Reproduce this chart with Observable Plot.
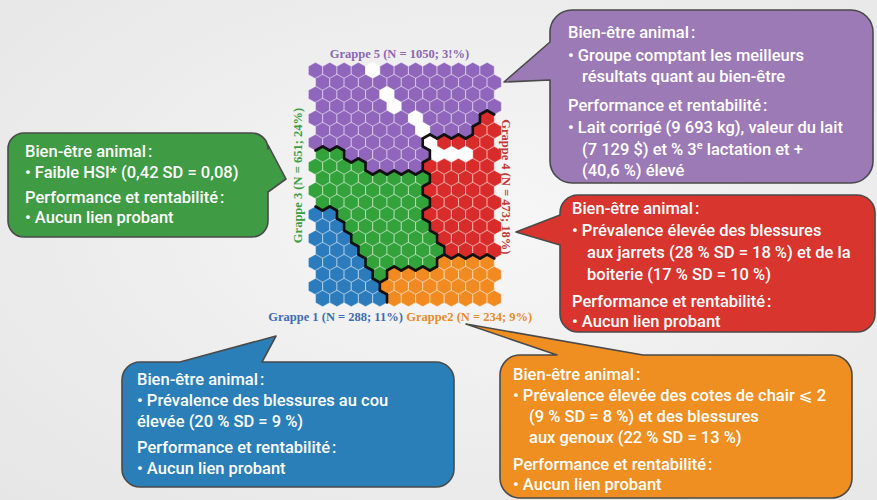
<!DOCTYPE html>
<html><head><meta charset="utf-8">
<script src="https://cdn.jsdelivr.net/npm/d3@7"></script>
<script src="https://cdn.jsdelivr.net/npm/@observablehq/plot@0.6"></script>
<style>
body{margin:0;background:#ececec;}
#wrap{position:relative;width:877px;height:500px;overflow:hidden;background:radial-gradient(ellipse at 55% 45%,#f7f7f7 0%,#ececec 60%,#e6e6e6 100%);}
#wrap svg{position:absolute;left:0;top:0;}
</style></head><body><div id="wrap"></div>
<script>
// ---- data ----
const clusterIds = ["1", "2", "3", "4", "5"];
const clusterNames = ["Grappe 1", "Grappe2", "Grappe 3", "Grappe 4", "Grappe 5"];
const clusterN = [288, 234, 651, 473, 1050];
const clusterPct = ["11%", "9%", "24%", "18%", "3!%"];
// SOM grid: 20 rows x 13 columns, cluster id per cell (odd rows shifted right)
const gridRows = [
  "5555555555555",
  "5555555555555",
  "5555555555555",
  "5555555555555",
  "5555555555554",
  "5555555555544",
  "5555555544444",
  "3355555544444",
  "3333555544444",
  "3333333344444",
  "3333333344444",
  "3333333344444",
  "1133333344444",
  "1133333344444",
  "1113333334444",
  "1113333334444",
  "1111333332222",
  "1111322222222",
  "1111122222222",
  "1111122222222"
];
// empty (white) nodes: [row, col]
const whiteCells = [[0,4],[2,5],[3,5],[4,7],[5,7],[6,8],[7,8],[7,9],[7,10]];

// ---- styles ----
const hexColors = ["#2c7bbd", "#f28a22", "#33a23b", "#d72c2a", "#9066bd", "#ffffff"];
const labelColors = ["#3b6db3", "#e98a2c", "#3e9c40", "#c23a35", "#8a67b3"];

// ---- build cells ----
const cells = [];
gridRows.forEach((s, row) => [...s].forEach((ch, col) => {
  const white = whiteCells.some(([r, c]) => r === row && c === col);
  cells.push({row, col, cluster: ch, fillKey: white ? "w" : ch, x: col + (row % 2 ? 0.5 : 0), y: row});
}));
const at = (r, c) => (r >= 0 && r < gridRows.length && c >= 0 && c < gridRows[0].length) ? gridRows[r][c] : null;
const V = [[0,-2/3],[0.5,-1/3],[0.5,1/3],[0,2/3],[-0.5,1/3],[-0.5,-1/3]];
const edges = [];
for (const d of cells) {
  const odd = d.row % 2 === 1;
  const nbrs = [
    {r: d.row, c: d.col + 1, v: [1, 2]},
    {r: d.row + 1, c: odd ? d.col + 1 : d.col, v: [2, 3]},
    {r: d.row + 1, c: odd ? d.col : d.col - 1, v: [3, 4]}
  ];
  for (const n of nbrs) {
    const other = at(n.r, n.c);
    if (other !== null && other !== d.cluster) {
      edges.push({x1: d.x + V[n.v[0]][0], y1: d.y + V[n.v[0]][1], x2: d.x + V[n.v[1]][0], y2: d.y + V[n.v[1]][1]});
    }
  }
}
const label = i => `${clusterNames[i]} (N = ${clusterN[i]}; ${clusterPct[i]})`;
const lblFont = {fontFamily: "Liberation Serif", fontWeight: "bold", fontSize: 12.5, textAnchor: "middle", lineAnchor: "middle"};

const chart = Plot.plot({
  width: 877, height: 500, margin: 0,
  style: {background: "transparent", overflow: "visible"},
  x: {domain: [0, 12], range: [315, 486.6], axis: null},
  y: {domain: [0, 19], range: [70, 298], axis: null},
  color: {domain: [...clusterIds, "w"], range: hexColors},
  marks: [
    Plot.dot(cells, {x: "x", y: "y", symbol: "hexagon", r: 7.15, fill: "fillKey", stroke: "#ffffff", strokeOpacity: 0.4, strokeWidth: 1.1}),
    Plot.link(edges, {x1: "x1", y1: "y1", x2: "x2", y2: "y2", stroke: "#111", strokeWidth: 2.6, strokeLinecap: "round"}),
    Plot.text([label(4)], {x: 5.87, y: -1.35, text: d => d, fill: labelColors[4], ...lblFont}),
    Plot.text([label(2)], {x: -1.22, y: 8.75, text: d => d, fill: labelColors[2], rotate: -90, ...lblFont}),
    Plot.text([label(3)], {x: 13.3, y: 9.7, text: d => d, fill: labelColors[3], rotate: 90, ...lblFont}),
    Plot.text([label(0)], {x: 1.4, y: 20.5, text: d => d, fill: labelColors[0], ...lblFont}),
    Plot.text([label(1)], {x: 10.75, y: 20.5, text: d => d, fill: labelColors[1], ...lblFont})
  ]
});
document.getElementById("wrap").appendChild(chart);

// ---- callout bubbles (annotation layer) ----
function bubblePath(b) {
  const {x, y, w, h, r, t} = b;
  let p = `M${x + r},${y}`;
  if (t.side === "top") p += `H${t.a}L${t.tx},${t.ty}L${t.b},${y}`;
  p += `H${x + w - r}A${r},${r} 0 0 1 ${x + w},${y + r}`;
  if (t.side === "right") p += `V${t.a}L${t.tx},${t.ty}L${x + w},${t.b}`;
  p += `V${y + h - r}A${r},${r} 0 0 1 ${x + w - r},${y + h}`;
  p += `H${x + r}A${r},${r} 0 0 1 ${x},${y + h - r}`;
  if (t.side === "left") p += `V${t.b}L${t.tx},${t.ty}L${x},${t.a}`;
  p += `V${y + r}A${r},${r} 0 0 1 ${x + r},${y}Z`;
  return p;
}
const NB = "\u202F";
const bubbles = [
  {fill: "#3f9b44", x: 8, y: 133, w: 260, h: 104, r: 16, t: {side: "right", a: 145, b: 192, tx: 286, ty: 179},
   lines: [[25, 157, `Bien-être animal${NB}:`], [25, 178, "• Faible HSI* (0,42 SD = 0,08)"], [25, 203, `Performance et rentabilité${NB}:`], [25, 223, "• Aucun lien probant"]]},
  {fill: "#9c7ab6", x: 550, y: 10, w: 323, h: 173, r: 22, t: {side: "left", a: 42, b: 80, tx: 504, ty: 82},
   lines: [[568, 38, `Bien-être animal${NB}:`], [568, 61, "• Groupe comptant les meilleurs"], [582, 82, "résultats quant au bien-être"], [568, 111, `Performance et rentabilité${NB}:`], [568, 133, "• Lait corrigé (9 693 kg), valeur du lait"], [582, 155, ["(7 129 $) et % 3", "e", " lactation et +"]], [582, 176, "(40,6 %) élevé"]]},
  {fill: "#d8352f", x: 560, y: 195, w: 315, h: 137, r: 18, t: {side: "left", a: 215, b: 245, tx: 516, ty: 232},
   lines: [[572, 214, `Bien-être animal${NB}:`], [572, 236, "• Prévalence élevée des blessures"], [587, 258, "aux jarrets (28 % SD = 18 %) et de la"], [587, 280, "boiterie (17 % SD = 10 %)"], [572, 307, `Performance et rentabilité${NB}:`], [572, 327, "• Aucun lien probant"]]},
  {fill: "#2b7fb8", x: 122, y: 362, w: 332, h: 125, r: 18, t: {side: "top", a: 180, b: 262, tx: 276, ty: 336},
   lines: [[137, 385, `Bien-être animal${NB}:`], [137, 406, "• Prévalence des blessures au cou"], [137, 427, "élevée (20 % SD = 9 %)"], [137, 453, `Performance et rentabilité${NB}:`], [137, 474, "• Aucun lien probant"]]},
  {fill: "#ef8f22", x: 500, y: 355, w: 352, h: 143, r: 20, t: {side: "top", a: 557, b: 643, tx: 466, ty: 324},
   lines: [[513, 380, `Bien-être animal${NB}:`], [513, 401, "• Prévalence élevée des cotes de chair ⩽ 2"], [529, 422, "(9 % SD = 8 %) et des blessures"], [529, 443, "aux genoux (22 % SD = 13 %)"], [513, 470, `Performance et rentabilité${NB}:`], [513, 490, "• Aucun lien probant"]]}
];
const ov = d3.select("#wrap").append("svg").attr("width", 877).attr("height", 500).style("pointer-events", "none");
for (const b of bubbles) {
  ov.append("path").attr("d", bubblePath(b)).attr("fill", b.fill).attr("stroke", "#4a4a4a").attr("stroke-width", 1.6).attr("stroke-linejoin", "round");
  for (const [lx, ly, txt] of b.lines) {
    const t = ov.append("text").attr("x", lx).attr("y", ly).attr("fill", "#fff")
      .attr("font-family", "Roboto, 'DejaVu Sans', sans-serif").attr("font-size", 16.5).attr("font-weight", 500);
    if (Array.isArray(txt)) {
      t.append("tspan").text(txt[0]);
      t.append("tspan").attr("dy", -6).attr("font-size", 11).text(txt[1]);
      t.append("tspan").attr("dy", 6).text(txt[2]);
    } else t.text(txt);
  }
}
</script></body></html>
